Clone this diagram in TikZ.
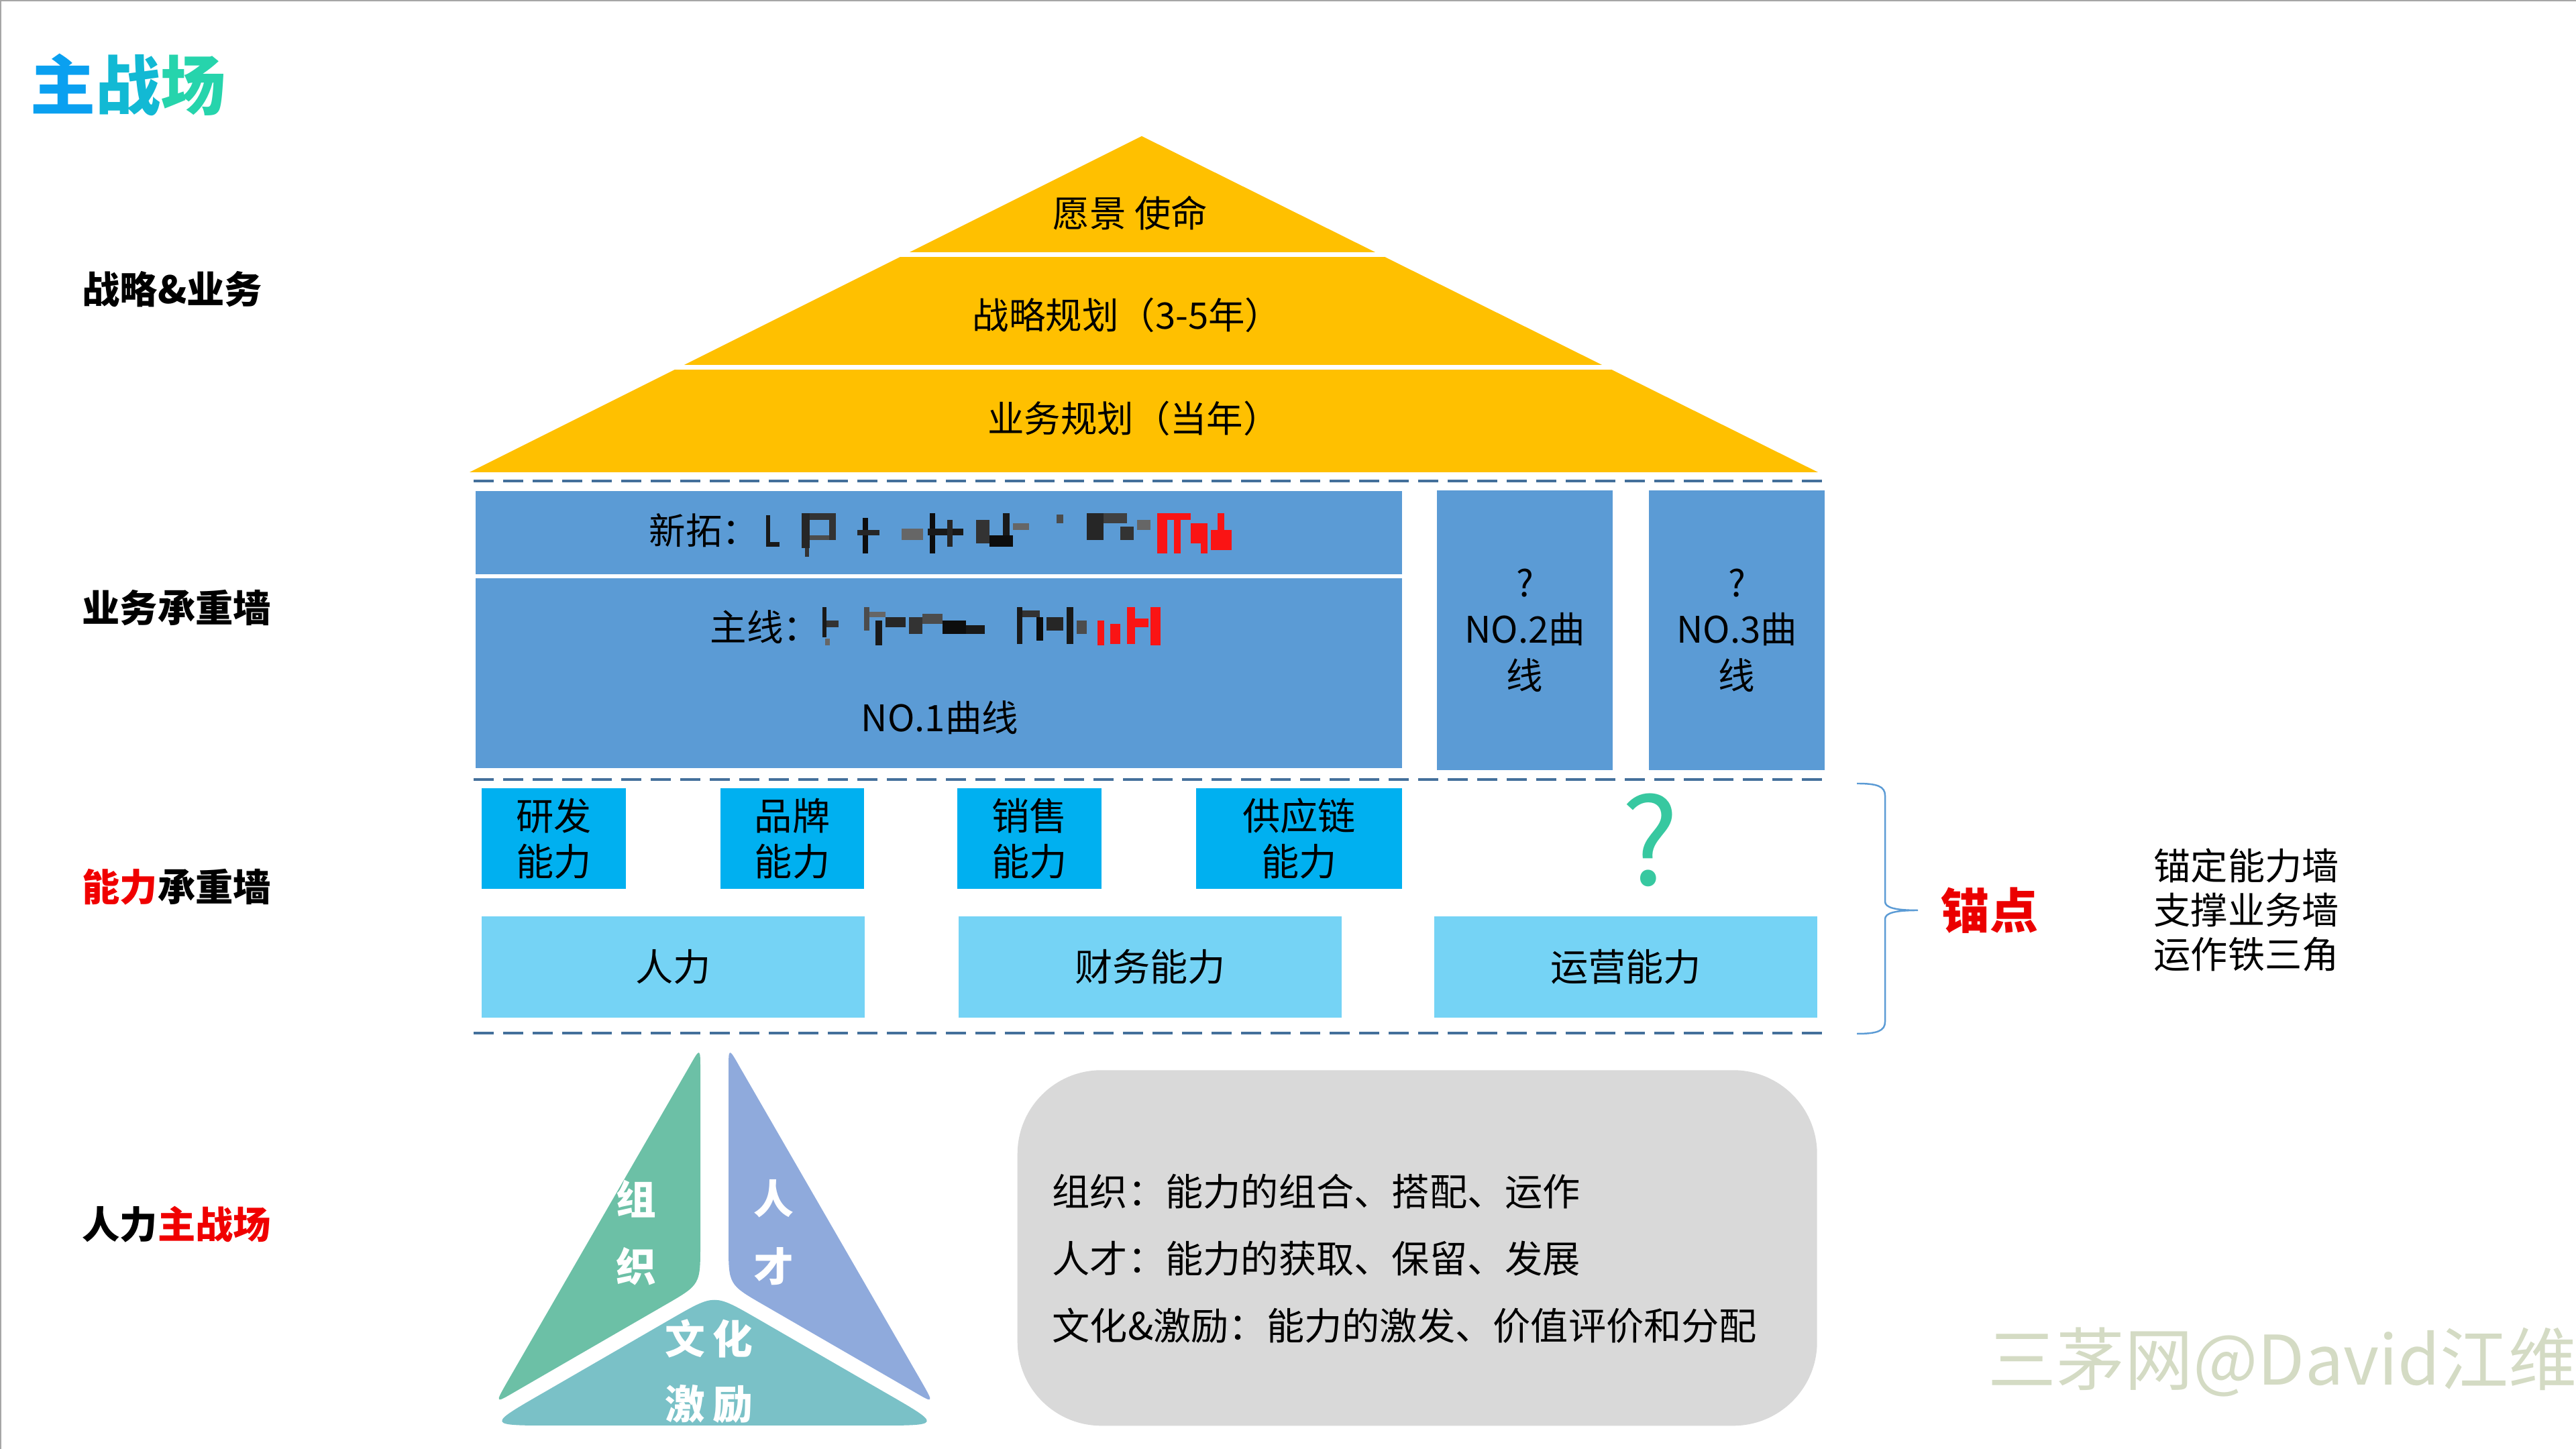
\documentclass[tikz,border=0pt]{standalone}
\usepackage{fontspec}
\setmainfont{Noto Sans CJK SC}
\usepackage{xcolor}
\definecolor{RoofGold}{RGB}{255,192,0}
\definecolor{WallBlue}{RGB}{91,155,213}
\definecolor{CapBlue}{RGB}{0,176,240}
\definecolor{BaseBlue}{RGB}{117,211,245}
\definecolor{DashBlue}{RGB}{68,112,155}
\definecolor{BraceBlue}{RGB}{91,155,213}
\definecolor{QTeal}{RGB}{55,200,160}
\definecolor{OrgGreen}{RGB}{108,192,166}
\definecolor{TalentBlue}{RGB}{143,170,220}
\definecolor{CultureTeal}{RGB}{122,193,199}
\definecolor{NoteGray}{RGB}{217,217,217}
\definecolor{AnchorRed}{RGB}{235,0,0}
\definecolor{LabelRed}{RGB}{240,0,0}
\definecolor{MarkGreen}{RGB}{212,219,196}
\definecolor{TitleA}{RGB}{10,160,240}
\definecolor{TitleB}{RGB}{18,185,212}
\definecolor{TitleC}{RGB}{38,212,172}
\definecolor{MosaicRed}{RGB}{250,20,20}
\usepackage{tikz}
\usetikzlibrary{positioning}
\tikzset{
  % row labels on the left
  rowlabel/.style={anchor=west, inner sep=0pt, font=\fontsize{16pt}{19pt}\selectfont\bfseries},
  % text in the roof tiers
  tiertext/.style={inner sep=0pt, font=\fontsize{15.5pt}{19pt}\selectfont},
  % business wall boxes
  wallbox/.style={
    rectangle, fill=WallBlue,
    inner sep=0pt, outer sep=0pt,
    align=center, font=\fontsize{15.5pt}{19.6pt}\selectfont
  },
  walltext/.style={inner sep=0pt, font=\fontsize{15.5pt}{19pt}\selectfont},
  % capability boxes
  capbox/.style={
    rectangle, fill=CapBlue,
    minimum height=1.5cm, inner sep=0pt, outer sep=0pt,
    align=center, font=\fontsize{16pt}{19.4pt}\selectfont
  },
  basebox/.style={
    rectangle, fill=BaseBlue,
    minimum width=5.71cm, minimum height=1.51cm,
    inner sep=0pt, outer sep=0pt,
    font=\fontsize{16pt}{19pt}\selectfont
  },
  % dashed floor lines
  divline/.style={DashBlue, line width=1.3pt, dash pattern=on 0.3cm off 0.14cm},
  % white text on the triangle
  tritext/.style={text=white, inner sep=0pt, font=\fontsize{17pt}{20pt}\selectfont\bfseries},
  notetext/.style={anchor=west, inner sep=0pt, align=left, font=\fontsize{16pt}{28.4pt}\selectfont},
}

\begin{document}
\begin{tikzpicture}[x=1cm, y=1cm]

  \useasboundingbox (0,0) rectangle (38.4,21.6);
  \fill[white] (0,0) rectangle (38.4,21.6);
  \draw[black!35, line width=1pt] (0,0) -- (0,21.6) -- (38.4,21.6);

  %% title and row labels
  \node[anchor=west, inner sep=0pt, font=\fontsize{27.6pt}{30pt}\selectfont\bfseries]
    (title) at (0.45,20.34) {\textcolor{TitleA}{主}\textcolor{TitleB}{战}\textcolor{TitleC}{场}};

  \node[rowlabel] (rowstrat) at (1.22,17.29) {战略\&业务};
  \node[rowlabel] (rowbiz)   at (1.22,12.54) {业务承重墙};
  \node[rowlabel] (rowcap)   at (1.22,8.38)  {\textcolor{LabelRed}{能力}承重墙};
  \node[rowlabel] (rowhr)    at (1.22,3.35)  {人力\textcolor{LabelRed}{主战场}};

  %% roof
  \fill[RoofGold] (17.02,19.57) -- (27.10,14.56) -- (7.00,14.56) -- cycle;
  \draw[white, line width=0.07cm] (6.8,17.80) -- (27.3,17.80);
  \draw[white, line width=0.07cm] (6.8,16.12) -- (27.3,16.12);

  \node[tiertext] (vision) at (16.85,18.42) {愿景 使命};
  \node[tiertext] (strat)  at (16.80,16.90) {战略规划（3-5年）};
  \node[tiertext] (plan)   at (16.90,15.36) {业务规划（当年）};

  %% floors
  \draw[divline] (7.06,14.43) -- (27.20,14.43);
  \draw[divline] (7.06,9.98)  -- (27.20,9.98);
  \draw[divline] (7.06,6.20)  -- (27.20,6.20);

  %% business wall
  \node[wallbox, minimum width=13.81cm, minimum height=1.24cm, anchor=north west]
    (newbiz) at (7.09,14.28) {};
  \node[wallbox, minimum width=13.81cm, minimum height=2.83cm, below=0.06cm of newbiz]
    (mainbiz) {};
  \node[wallbox, minimum width=2.62cm, minimum height=4.17cm, anchor=north west]
    (curve2) at (21.42,14.29) {?\\NO.2曲\\线};
  \node[wallbox, minimum width=2.62cm, minimum height=4.17cm, right=0.54cm of curve2]
    (curve3) {?\\NO.3曲\\线};

  \node[walltext, anchor=west] (newlbl)  at (9.67,13.69)  {新拓：};
  \node[walltext, anchor=west] (mainlbl) at (10.58,12.25) {主线：};
  \node[walltext] (curve1) at (14.01,10.90) {NO.1曲线};

  % masked text
  \foreach \xa/\ya/\xb/\yb/\k in {
      11.42/13.45/11.48/13.92/90, 11.48/13.45/11.62/13.52/90,
      11.95/13.43/12.07/13.95/85, 12.07/13.85/12.46/13.95/80,
      12.36/13.55/12.46/13.85/80, 12.07/13.55/12.36/13.62/70,
      12.00/13.30/12.06/13.43/80, 12.86/13.35/12.94/13.88/95,
      12.78/13.62/13.11/13.70/85, 13.44/13.55/13.76/13.72/60,
      13.86/13.35/13.94/13.95/95, 13.83/13.62/14.36/13.72/90,
      14.12/13.45/14.20/13.85/85, 14.55/13.50/14.75/13.85/80,
      14.75/13.45/15.10/13.62/95, 14.95/13.62/15.05/13.95/90,
      15.10/13.70/15.34/13.80/60, 15.75/13.80/15.85/13.93/70,
      16.20/13.55/16.45/13.95/85, 16.45/13.80/16.80/13.95/75,
      16.70/13.55/16.90/13.75/80, 16.95/13.70/17.15/13.85/60,
      12.26/12.10/12.32/12.55/90, 12.32/12.25/12.50/12.35/80,
      12.30/11.98/12.37/12.08/60, 12.88/12.20/12.96/12.55/70,
      12.96/12.40/13.20/12.48/60, 13.05/11.98/13.15/12.35/90,
      13.20/12.25/13.50/12.40/85, 13.55/12.15/13.75/12.40/80,
      13.75/12.30/14.05/12.45/70, 14.05/12.15/14.40/12.35/95,
      14.40/12.15/14.68/12.28/90, 15.16/12.00/15.24/12.55/90,
      15.24/12.40/15.50/12.50/80, 15.45/12.05/15.55/12.40/95,
      15.60/12.20/15.85/12.40/85, 15.90/12.00/16.00/12.55/90,
      16.05/12.15/16.20/12.35/70}
    \fill[black!\k] (\xa,\ya) rectangle (\xb,\yb);
  \foreach \xa/\ya/\xb/\yb in {
      17.25/13.35/17.40/13.95, 17.40/13.85/17.75/13.95,
      17.50/13.35/17.60/13.85, 17.75/13.50/18.00/13.80,
      17.90/13.35/18.00/13.50, 18.05/13.40/18.36/13.70,
      18.15/13.70/18.25/13.95,
      16.36/11.98/16.46/12.35, 16.55/12.00/16.70/12.30,
      16.80/12.00/16.92/12.55, 16.92/12.25/17.12/12.38,
      17.15/11.98/17.30/12.55}
    \fill[MosaicRed] (\xa,\ya) rectangle (\xb,\yb);

  %% capability wall
  \node[capbox, minimum width=2.15cm, anchor=north west] (rd) at (7.18,9.85) {研发\\能力};
  \node[capbox, minimum width=2.14cm, right=1.41cm of rd]    (brand)  {品牌\\能力};
  \node[capbox, minimum width=2.15cm, right=1.39cm of brand] (sales)  {销售\\能力};
  \node[capbox, minimum width=3.07cm, right=1.41cm of sales] (supply) {供应链\\能力};
  \node[inner sep=0pt, text=QTeal, font=\fontsize{51pt}{55pt}\selectfont]
    (unknown) at (24.60,9.08) {?};

  \node[basebox, anchor=north west] (hr) at (7.18,7.94) {人力};
  \node[basebox, right=1.40cm of hr]  (fin) {财务能力};
  \node[basebox, right=1.38cm of fin] (ops) {运营能力};

  %% anchor brace
  \draw[BraceBlue, line width=0.7pt]
    (27.68,9.92) .. controls (27.98,9.92) and (28.10,9.88) .. (28.10,9.74)
    -- (28.10,8.16) .. controls (28.10,8.07) and (28.25,8.03) .. (28.59,8.03)
    .. controls (28.25,8.03) and (28.10,7.99) .. (28.10,7.90)
    -- (28.10,6.37) .. controls (28.10,6.23) and (27.98,6.19) .. (27.68,6.19);

  \node[inner sep=0pt, text=AnchorRed, font=\fontsize{20.5pt}{24pt}\selectfont\bfseries]
    (anchor) at (29.66,8.03) {锚点};
  \node[anchor=west, inner sep=0pt, align=left, font=\fontsize{15.7pt}{18.8pt}\selectfont]
    (anchornote) at (32.10,8.03) {锚定能力墙\\支撑业务墙\\运作铁三角};

  %% people triangle
  \fill[OrgGreen] (10.44,5.64) -- (10.44,3.05) .. controls (10.44,2.45) .. (9.92,2.15)
    -- (7.68,0.855) .. controls (7.38,0.68) .. (7.55,0.98)
    -- (10.27,5.69) .. controls (10.44,5.99) .. (10.44,5.64) -- cycle;
  \fill[TalentBlue] (10.86,5.64) -- (10.86,3.05) .. controls (10.86,2.45) .. (11.38,2.15)
    -- (13.62,0.855) .. controls (13.92,0.68) .. (13.75,0.98)
    -- (11.03,5.69) .. controls (10.86,5.99) .. (10.86,5.64) -- cycle;
  \fill[CultureTeal] (10.04,1.96) .. controls (10.65,2.31) .. (11.26,1.96)
    -- (13.18,0.85) .. controls (14.05,0.35) .. (13.05,0.35)
    -- (8.25,0.35) .. controls (7.25,0.35) .. (8.12,0.85) -- (10.04,1.96) -- cycle;

  \node[tritext] (org1) at (9.48,3.73)  {组};
  \node[tritext] (org2) at (9.48,2.72)  {织};
  \node[tritext] (tal1) at (11.53,3.73) {人};
  \node[tritext] (tal2) at (11.53,2.72) {才};
  \node[tritext] (cul1) at (10.57,1.65) {文\hspace{0.12cm}化};
  \node[tritext] (cul2) at (10.57,0.67) {激\hspace{0.12cm}励};

  %% notes
  \node[fill=NoteGray, rounded corners=1.25cm, minimum width=11.92cm, minimum height=5.30cm,
        inner sep=0pt, anchor=south west] (notes) at (15.16,0.34) {};
  \node[notetext] (notelines) at (15.68,2.84)
    {组织：能力的组合、搭配、运作\\人才：能力的获取、保留、发展\\文化\&激励：能力的激发、价值评价和分配};

  %% watermark
  \node[anchor=west, inner sep=0pt, text=MarkGreen, font=\fontsize{29pt}{32pt}\selectfont]
    (mark) at (29.63,1.29) {三茅网@David江维};

\end{tikzpicture}
\end{document}
